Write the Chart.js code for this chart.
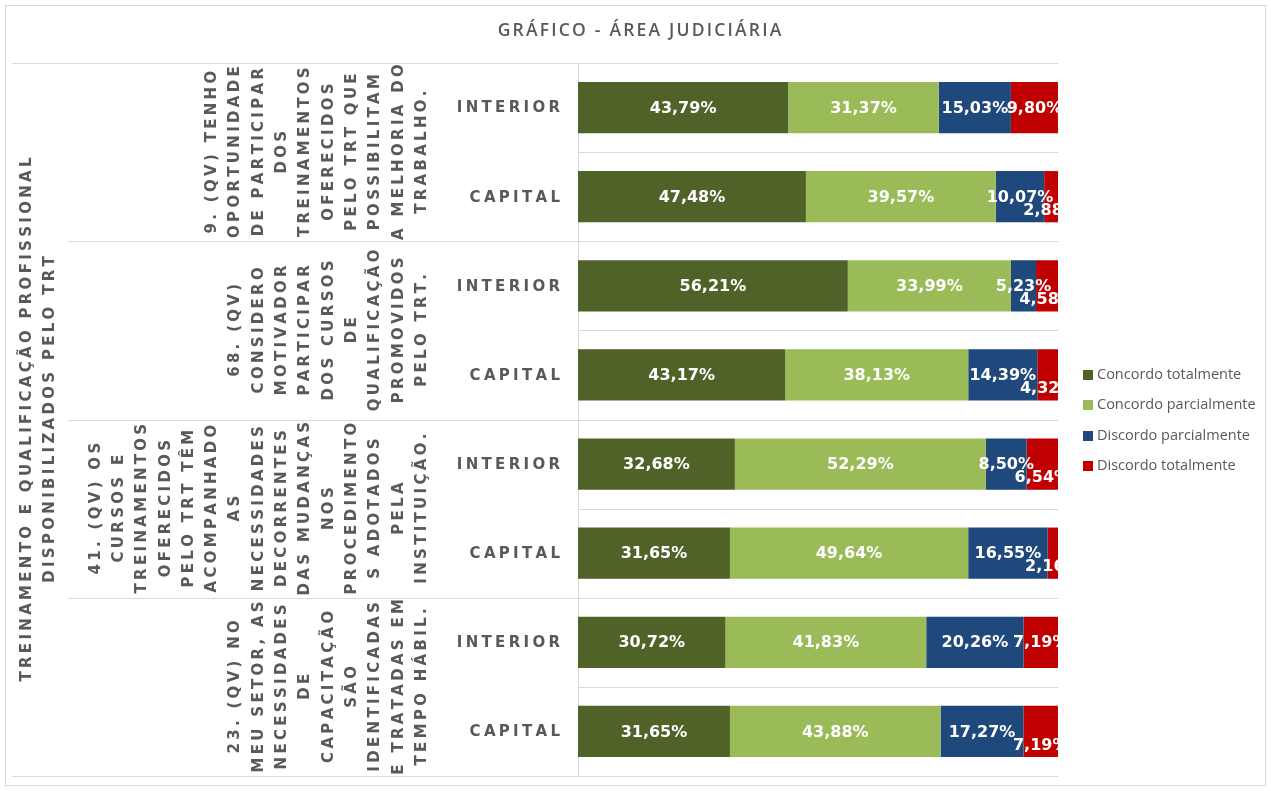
<!DOCTYPE html>
<html>
<head>
<meta charset="utf-8">
<script src="https://cdn.jsdelivr.net/npm/chart.js@4/dist/chart.umd.min.js"></script>
<style>
  html, body { margin: 0; padding: 0; background: #ffffff; }
  #wrap { width: 1271px; height: 791px; position: relative; }
</style>
</head>
<body>
<div id="wrap"><canvas id="c"></canvas></div>
<script>
// ---------- DATA ----------
const chartTitle = 'GRÁFICO - ÁREA JUDICIÁRIA';
const outerLabelLines = ['TREINAMENTO E QUALIFICAÇÃO PROFISSIONAL', 'DISPONIBILIZADOS PELO TRT'];
const questionLines = [
  ['9. (QV) TENHO', 'OPORTUNIDADE', 'DE PARTICIPAR', 'DOS', 'TREINAMENTOS', 'OFERECIDOS', 'PELO TRT QUE', 'POSSIBILITAM', 'A MELHORIA DO', 'TRABALHO.'],
  ['68. (QV)', 'CONSIDERO', 'MOTIVADOR', 'PARTICIPAR', 'DOS CURSOS', 'DE', 'QUALIFICAÇÃO', 'PROMOVIDOS', 'PELO TRT.'],
  ['41. (QV) OS', 'CURSOS E', 'TREINAMENTOS', 'OFERECIDOS', 'PELO TRT TÊM', 'ACOMPANHADO', 'AS', 'NECESSIDADES', 'DECORRENTES', 'DAS MUDANÇAS', 'NOS', 'PROCEDIMENTO', 'S ADOTADOS', 'PELA', 'INSTITUIÇÃO.'],
  ['23. (QV) NO', 'MEU SETOR, AS', 'NECESSIDADES', 'DE', 'CAPACITAÇÃO', 'SÃO', 'IDENTIFICADAS', 'E TRATADAS EM', 'TEMPO HÁBIL.']
];
const categories = ['INTERIOR', 'CAPITAL', 'INTERIOR', 'CAPITAL', 'INTERIOR', 'CAPITAL', 'INTERIOR', 'CAPITAL'];
const seriesNames = ['Concordo totalmente', 'Concordo parcialmente', 'Discordo parcialmente', 'Discordo totalmente'];
const concordoTotalmente    = [43.79, 47.48, 56.21, 43.17, 32.68, 31.65, 30.72, 31.65];
const concordoParcialmente  = [31.37, 39.57, 33.99, 38.13, 52.29, 49.64, 41.83, 43.88];
const discordoParcialmente  = [15.03, 10.07, 5.23, 14.39, 8.50, 16.55, 20.26, 17.27];
const discordoTotalmente    = [9.80, 2.88, 4.58, 4.32, 6.54, 2.16, 7.19, 7.19];
const seriesColors = ['#4F6228', '#9BBB59', '#1F497D', '#C00000'];

// ---------- helpers ----------
const GRID = '#D9D9D9';
const TEXT = '#595959';
const CAT_FONT = 'bold 15px "DejaVu Sans"';
const CAT_SPACING = 3.3;

function spacedWidth(ctx, text, sp) {
  let w = 0;
  for (const ch of text) w += ctx.measureText(ch).width;
  return w + sp * (Array.from(text).length - 1);
}
function drawSpaced(ctx, text, x, y, sp, align) {
  const total = spacedWidth(ctx, text, sp);
  let cx = align === 'center' ? x - total / 2 : (align === 'right' ? x - total : x);
  ctx.textAlign = 'left';
  for (const ch of text) {
    ctx.fillText(ch, cx, y);
    cx += ctx.measureText(ch).width + sp;
  }
}
function hLine(ctx, x1, x2, y) {
  ctx.beginPath();
  ctx.moveTo(x1, Math.round(y) + 0.5);
  ctx.lineTo(x2, Math.round(y) + 0.5);
  ctx.stroke();
}

const decorPlugin = {
  id: 'decor',
  beforeDraw(chart) {
    const ctx = chart.ctx;
    const ys = chart.scales.y;
    const area = chart.chartArea;
    ctx.save();
    ctx.fillStyle = '#ffffff';
    ctx.fillRect(0, 0, chart.width, chart.height);
    // outer frame
    ctx.strokeStyle = GRID;
    ctx.lineWidth = 1;
    ctx.strokeRect(5.5, 5.5, chart.width - 11, chart.height - 11);

    // title
    ctx.fillStyle = TEXT;
    ctx.font = '600 17.5px "Open Sans"';
    ctx.textBaseline = 'middle';
    drawSpaced(ctx, chartTitle, 639.5, 31, 2.2, 'center');

    // grid / separators
    const n = categories.length;
    const pix = i => ys.getPixelForValue(i);
    ctx.strokeStyle = GRID;
    hLine(ctx, 12, area.right, area.top);
    hLine(ctx, 12, area.right, area.bottom);
    for (let i = 0; i < n - 1; i++) {
      const yb = (pix(i) + pix(i + 1)) / 2;
      if (i % 2 === 1) hLine(ctx, 68, area.right, yb);
      else hLine(ctx, area.left, area.right, yb);
    }
    ctx.beginPath();
    ctx.moveTo(Math.round(area.left) + 0.5, area.top);
    ctx.lineTo(Math.round(area.left) + 0.5, area.bottom);
    ctx.stroke();

    // category labels (INTERIOR / CAPITAL)
    ctx.fillStyle = TEXT;
    ctx.font = CAT_FONT;
    ctx.textBaseline = 'middle';
    for (let i = 0; i < n; i++) {
      drawSpaced(ctx, categories[i], 560, pix(i) + 1, CAT_SPACING, 'right');
    }

    // question labels (rotated)
    const lineStep = 23.3;
    for (let g = 0; g < questionLines.length; g++) {
      const yc = (pix(g * 2) + pix(g * 2 + 1)) / 2;
      const lines = questionLines[g];
      const lastX = 422;
      lines.forEach((ln, k) => {
        const x = lastX - (lines.length - 1 - k) * lineStep;
        ctx.save();
        ctx.translate(x, yc);
        ctx.rotate(-Math.PI / 2);
        drawSpaced(ctx, ln, 0, 0, CAT_SPACING, 'center');
        ctx.restore();
      });
    }
    // outer label
    const yMid = (area.top + area.bottom) / 2;
    outerLabelLines.forEach((ln, k) => {
      const x = 50 - (outerLabelLines.length - 1 - k) * lineStep;
      ctx.save();
      ctx.translate(x, yMid);
      ctx.rotate(-Math.PI / 2);
      drawSpaced(ctx, ln, 0, 0, CAT_SPACING, 'center');
      ctx.restore();
    });

    // legend
    ctx.font = '14.5px "Open Sans"';
    ctx.textBaseline = 'middle';
    const ds = chart.data.datasets;
    const step = 30.3;
    const y0 = yMid - step * (ds.length - 1) / 2 + 1;
    ds.forEach((d, k) => {
      const y = y0 + k * step;
      ctx.fillStyle = d.backgroundColor;
      ctx.fillRect(1083, Math.round(y - 5), 10, 10);
      ctx.fillStyle = TEXT;
      ctx.textAlign = 'left';
      ctx.fillText(d.label, 1097, y);
    });
    ctx.restore();
  },
  afterDatasetsDraw(chart) {
    const ctx = chart.ctx;
    const area = chart.chartArea;
    ctx.save();
    ctx.beginPath();
    ctx.rect(area.left, 0, area.right - area.left + 1, chart.height);
    ctx.clip();
    ctx.font = 'bold 16px "DejaVu Sans"';
    ctx.fillStyle = '#ffffff';
    ctx.textBaseline = 'middle';
    ctx.textAlign = 'center';
    const n = categories.length;
    for (let j = 0; j < n; j++) {
      let prevRight = -Infinity;
      chart.data.datasets.forEach((d, i) => {
        const bar = chart.getDatasetMeta(i).data[j];
        const v = d.data[j];
        const txt = v.toFixed(2).replace('.', ',') + '%';
        const w = ctx.measureText(txt).width;
        const cx = (bar.x + bar.base) / 2;
        let cy = bar.y + 1;
        const left = cx - w / 2;
        if (prevRight - left > 1.9) cy += 13;
        ctx.fillText(txt, cx, cy);
        prevRight = cx + w / 2;
      });
    }
    ctx.restore();
  }
};

const datasets = [concordoTotalmente, concordoParcialmente, discordoParcialmente, discordoTotalmente].map((arr, i) => ({
  label: seriesNames[i],
  data: arr,
  backgroundColor: seriesColors[i],
  borderWidth: 0,
  categoryPercentage: 1.0,
  barPercentage: 0.575
}));

new Chart(document.getElementById('c'), {
  type: 'bar',
  data: { labels: categories, datasets },
  options: {
    indexAxis: 'y',
    responsive: true,
    maintainAspectRatio: false,
    animation: false,
    layout: { padding: { left: 578, right: 213, top: 63, bottom: 15 } },
    scales: {
      x: { stacked: true, min: 0, max: 100, display: false },
      y: { stacked: true, display: false }
    },
    plugins: { legend: { display: false }, tooltip: { enabled: false }, title: { display: false } }
  },
  plugins: [decorPlugin]
});
</script>
</body>
</html>
